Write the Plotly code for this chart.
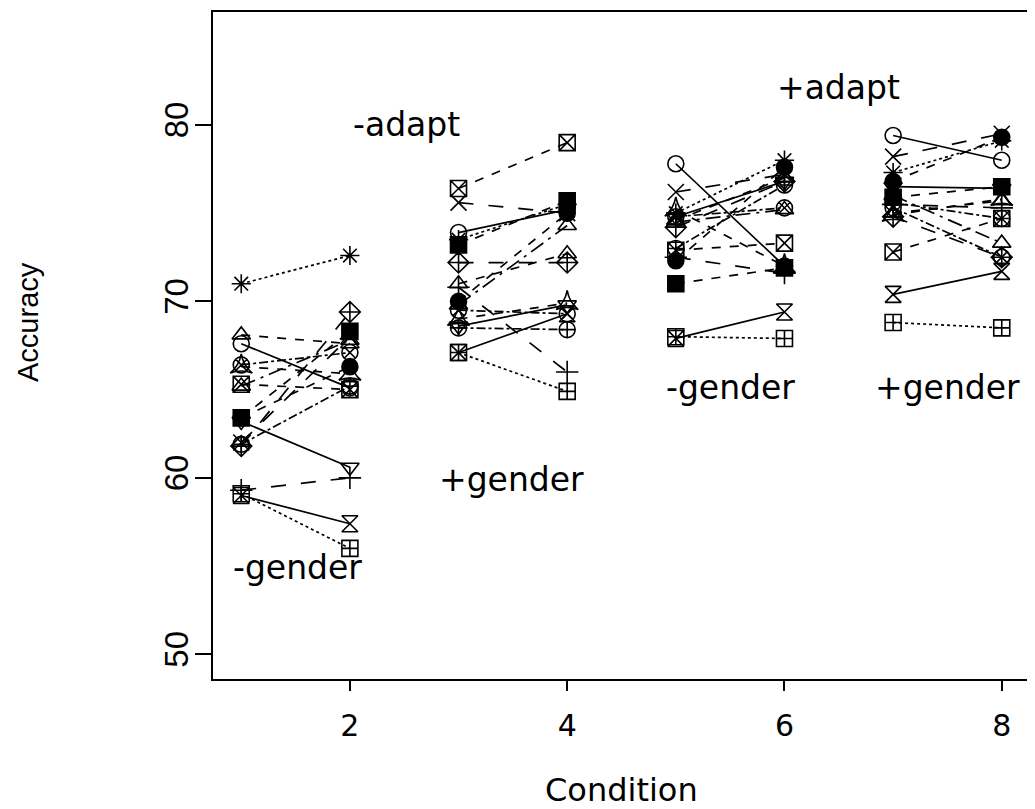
import plotly.graph_objects as go

conditions = [1, 2, 3, 4, 5, 6, 7, 8]

# Accuracy of each subject in conditions 1..8
s01 = [71.0, 72.6, 73.5, 75.5, 75.0, 78.0, 77.3, 79.1]
s02 = [59.1, 56.0, 67.1, 64.9, 68.0, 67.9, 68.8, 68.5]
s03 = [59.0, 57.4, 67.1, 69.3, 67.9, 69.4, 70.4, 71.7]
s04 = [63.2, 60.6, 68.6, 69.8, 74.8, 76.8, 76.5, 76.4]
s05 = [59.3, 60.0, 70.8, 66.0, 72.5, 71.6, 75.5, 75.3]
s06 = [63.4, 68.3, 73.2, 75.7, 71.0, 71.9, 75.9, 76.5]
s07 = [61.8, 69.4, 72.2, 72.2, 74.2, 76.8, 74.8, 72.5]
s08 = [68.1, 67.6, 71.0, 72.7, 74.6, 77.0, 75.0, 75.7]
s09 = [67.6, 65.1, 73.9, 75.2, 77.8, 72.0, 79.4, 78.0]
s10 = [66.4, 67.1, 69.5, 69.3, 74.8, 75.3, 75.3, 72.5]
s11 = [65.3, 65.0, 76.4, 79.0, 72.9, 73.3, 72.8, 74.7]
s12 = [63.4, 66.3, 70.0, 75.0, 72.3, 77.6, 76.8, 79.3]
s13 = [65.2, 67.8, 69.8, 74.3, 74.5, 75.2, 76.0, 73.3]
s14 = [61.9, 65.2, 68.5, 68.4, 73.0, 76.6, 75.6, 74.7]
s15 = [66.3, 65.9, 69.0, 69.9, 75.2, 72.0, 74.9, 75.8]
s16 = [62.0, 68.0, 75.6, 75.0, 76.2, 77.2, 78.2, 79.5]

subjects = [s01, s02, s03, s04, s05, s06, s07, s08,
            s09, s10, s11, s12, s13, s14, s15, s16]

symbols = ["asterisk-open", "square-cross-open", "hourglass-open", "triangle-down-open",
           "cross-thin-open", "square", "diamond-cross-open", "triangle-up-open",
           "circle-open", "circle-x-open", "square-x-open", "circle",
           "triangle-up-open", "circle-cross-open", "star-triangle-up-open", "x-thin-open"]
dashes = ["dot", "dot", "solid", "solid", "longdash", "dash", "longdash", "dash",
          "solid", "dashdot", "dash", "dash", "longdashdot", "dashdot", "dash", "longdash"]

labels = ["-adapt", "+adapt", "-gender", "+gender", "-gender", "+gender"]
label_x = [2.52, 6.5, 1.52, 3.49, 5.5, 7.5]
label_y = [80.0, 82.1, 54.9, 59.9, 65.1, 65.1]

x_ticks = [2, 4, 6, 8]
y_ticks = [50, 60, 70, 80]
x_title = "Condition"
y_title = "Accuracy"

fig = go.Figure()
for vals, sym, dash in zip(subjects, symbols, dashes):
    xs, ys = [], []
    for i in range(0, 8, 2):
        xs += [conditions[i], conditions[i + 1], None]
        ys += [vals[i], vals[i + 1], None]
    fig.add_trace(go.Scatter(
        x=xs, y=ys, mode="lines+markers", connectgaps=False,
        line=dict(color="black", width=1.7, dash=dash),
        marker=dict(symbol=sym, size=16, color="black",
                    line=dict(color="black", width=1.6)),
        showlegend=False))

for t, lx, ly in zip(labels, label_x, label_y):
    fig.add_annotation(x=lx, y=ly, xref="x", yref="y", text=t, showarrow=False,
                       font=dict(family="DejaVu Sans", size=33, color="black"))

# axis titles (plot area spans 817 x 667 px)
fig.add_annotation(x=(621 - 213) / 817, y=(679 - 790) / 667, xref="paper", yref="paper",
                   text=x_title, showarrow=False, xanchor="center", yanchor="middle",
                   font=dict(family="DejaVu Sans", size=32, color="black"))
fig.add_annotation(x=(28 - 213) / 817, y=(679 - 322) / 667, xref="paper", yref="paper",
                   text=y_title, showarrow=False, xanchor="center", yanchor="middle",
                   textangle=-90,
                   font=dict(family="Liberation Sans", size=29, color="black"))

# the page body adds an 8 px offset, so the figure is 8 px smaller
fig.update_layout(
    width=1027, height=801,
    margin=dict(l=205, r=5, t=4, b=130, autoexpand=False),
    plot_bgcolor="white", paper_bgcolor="white",
    font=dict(family="DejaVu Sans", color="black"),
)
fig.update_xaxes(
    range=[0.74, 8.26], tickvals=x_ticks, ticks="outside", ticklen=10, tickwidth=2,
    tickcolor="black", showline=True, linecolor="black", linewidth=2, mirror=True,
    showgrid=False, zeroline=False, tickfont=dict(size=30, family="DejaVu Sans"),
    ticklabelstandoff=9, automargin=False,
)
fig.update_yaxes(
    range=[48.6, 86.4], tickvals=y_ticks, ticks="outside", ticklen=16, tickwidth=2,
    tickcolor="black", showline=True, linecolor="black", linewidth=2, mirror=True,
    showgrid=False, zeroline=False, tickangle=-90,
    tickfont=dict(size=33, family="Liberation Sans"), ticklabelstandoff=-6,
    automargin=False,
)

fig.write_html("out.html")
